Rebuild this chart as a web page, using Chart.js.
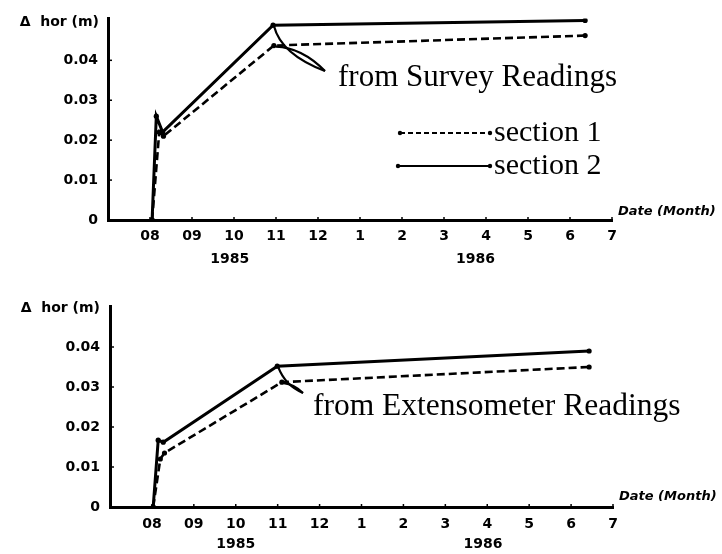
<!DOCTYPE html>
<html>
<head>
<meta charset="utf-8">
<script src="https://cdn.jsdelivr.net/npm/chart.js@4/dist/chart.umd.min.js"></script>
<style>
  html, body { margin: 0; padding: 0; background: #fff; }
  canvas { display: block; }
</style>
</head>
<body>
<canvas id="survey" width="722" height="277"></canvas>
<canvas id="extenso" width="722" height="277"></canvas>
<script>
// Months counted from January 1985 = 1, so 13 = January 1986.
const monthTicks  = [8, 9, 10, 11, 12, 13, 14, 15, 16, 17, 18, 19];
const monthLabels = ['08', '09', '10', '11', '12', '1', '2', '3', '4', '5', '6', '7'];
const dispTicks   = [0, 0.01, 0.02, 0.03, 0.04];
const dispLabels  = ['0', '0.01', '0.02', '0.03', '0.04'];
const yearLabels  = ['1985', '1986'];

// Horizontal displacement from survey readings (m)
const surveyS1Month = [8.05, 8.22, 8.32, 10.95, 18.36];
const surveyS1Disp  = [0, 0.022, 0.021, 0.0437, 0.0462];
const surveyS2Month = [8.05, 8.15, 8.3, 10.93, 18.36];
const surveyS2Disp  = [0, 0.026, 0.022, 0.0488, 0.0500];

// Horizontal displacement from extensometer readings (m)
const extS1Month = [8.03, 8.2, 8.3, 11.1, 18.43];
const extS1Disp  = [0, 0.012, 0.0135, 0.0312, 0.035];
const extS2Month = [8.03, 8.15, 8.27, 10.99, 18.43];
const extS2Disp  = [0, 0.0167, 0.0162, 0.0352, 0.039];

const CANVAS_W = 722, CANVAS_H = 277;

function series(months, disp) {
  return months.map((m, i) => ({ x: m, y: disp[i] }));
}

// Axis decorations, callout and legend
const decor = {
  id: 'decor',
  afterDraw(chart, args, o) {
    const ctx = chart.ctx, xs = chart.scales.x, a = chart.chartArea;
    ctx.save();
    ctx.fillStyle = '#000';
    ctx.strokeStyle = '#000';

    // small inward tick marks
    ctx.lineWidth = 1.5;
    dispTicks.forEach(v => {
      if (v === 0) return;
      const y = chart.scales.y.getPixelForValue(v);
      ctx.beginPath(); ctx.moveTo(a.left, y); ctx.lineTo(a.left + 4, y); ctx.stroke();
    });
    monthTicks.forEach(v => {
      const x = xs.getPixelForValue(v);
      ctx.beginPath(); ctx.moveTo(x, a.bottom); ctx.lineTo(x, a.bottom - 3); ctx.stroke();
    });

    // vertical axis title
    ctx.font = 'bold 14px "DejaVu Sans"';
    ctx.textAlign = 'right';
    ctx.textBaseline = 'middle';
    ctx.fillText('\u0394  hor (m)', o.titleRight, a.top + o.titleDy);

    // horizontal axis title
    ctx.font = 'italic bold 13px "DejaVu Sans"';
    ctx.textAlign = 'left';
    ctx.fillText('Date (Month)', a.right + 6, a.bottom - o.dateDy);

    // years under the month labels
    ctx.font = 'bold 14px "DejaVu Sans"';
    ctx.textAlign = 'center';
    yearLabels.forEach((t, i) => ctx.fillText(t, xs.getPixelForValue(o.yearAt[i]), o.yearY));

    // callout from the November readings to the note
    const p1 = chart.getDatasetMeta(0).data[3];
    const p2 = chart.getDatasetMeta(1).data[3];
    const ex = o.calloutEnd[0], ey = o.calloutEnd[1];
    ctx.lineWidth = 2.2;
    ctx.beginPath();
    ctx.moveTo(p2.x + 1, p2.y + 1);
    ctx.quadraticCurveTo(p2.x + 8, (p2.y + ey) / 2 + 6, ex, ey);
    ctx.stroke();
    ctx.beginPath();
    ctx.moveTo(p1.x + 2, p1.y + 1);
    ctx.quadraticCurveTo(p1.x + (ex - p1.x) * 0.55, p1.y + 2, ex, ey);
    ctx.stroke();

    ctx.font = o.noteSize + 'px "Liberation Serif"';
    ctx.textAlign = 'left';
    ctx.textBaseline = 'alphabetic';
    ctx.fillText(o.note, o.noteX, o.noteY);

    // legend
    if (o.legend) {
      const L = o.legend;
      L.rows.forEach(r => {
        ctx.lineWidth = 2;
        ctx.setLineDash(r.dash);
        ctx.beginPath(); ctx.moveTo(r.x0, r.y); ctx.lineTo(r.x1, r.y); ctx.stroke();
        ctx.setLineDash([]);
        [r.x0, r.x1].forEach(x => { ctx.beginPath(); ctx.arc(x, r.y, 2.2, 0, Math.PI * 2); ctx.fill(); });
        ctx.font = L.size + 'px "Liberation Serif"';
        ctx.fillText(r.text, r.x1 + 4, r.y + L.baseDy);
      });
    }
    ctx.restore();
  }
};

function makeChart(id, c) {
  const lineStyle = {
    borderColor: '#000', pointRadius: 2.6, pointBackgroundColor: '#000',
    pointBorderColor: '#000', pointBorderWidth: 0, tension: 0, fill: false
  };
  return new Chart(document.getElementById(id), {
    type: 'line',
    data: {
      datasets: [
        Object.assign({ label: 'section 1', data: series(c.s1m, c.s1d), borderWidth: 2.6, borderDash: [8, 4] }, lineStyle),
        Object.assign({ label: 'section 2', data: series(c.s2m, c.s2d), borderWidth: 3 }, lineStyle)
      ]
    },
    options: {
      responsive: false,
      animation: false,
      devicePixelRatio: 1,
      layout: { padding: { left: 0, top: c.area.top, right: CANVAS_W - c.area.right, bottom: 0 } },
      plugins: { legend: { display: false }, tooltip: { enabled: false }, decor: c.decor },
      scales: {
        x: {
          type: 'linear', min: 7, max: 19,
          afterBuildTicks: s => { s.ticks = monthTicks.map(v => ({ value: v })); },
          afterFit: s => { s.height = CANVAS_H - c.area.bottom; },
          grid: { display: false, drawTicks: false },
          border: { display: true, width: 3, color: '#000' },
          ticks: {
            autoSkip: false, maxRotation: 0, padding: c.xPad, color: '#000',
            font: { family: 'DejaVu Sans', weight: 'bold', size: 14 },
            callback: (v, i) => monthLabels[i]
          }
        },
        y: {
          type: 'linear', min: 0, max: c.yMax,
          afterBuildTicks: s => { s.ticks = dispTicks.map(v => ({ value: v })); },
          afterFit: s => { s.width = c.area.left; },
          grid: { display: false, drawTicks: false },
          border: { display: true, width: 3, color: '#000' },
          ticks: {
            padding: 10, color: '#000',
            font: { family: 'DejaVu Sans', weight: 'bold', size: 14 },
            callback: (v, i) => dispLabels[i]
          }
        }
      }
    },
    plugins: [decor]
  });
}

makeChart('survey', {
  s1m: surveyS1Month, s1d: surveyS1Disp, s2m: surveyS2Month, s2d: surveyS2Disp,
  area: { left: 108, right: 612, top: 18, bottom: 220 },
  yMax: 0.0505, xPad: 8,
  decor: {
    titleRight: 99, titleDy: 4, dateDy: 8, yearAt: [9.9, 15.75], yearY: 259,
    calloutEnd: [325, 71], note: 'from Survey Readings', noteSize: 31, noteX: 338, noteY: 86,
    legend: {
      size: 30, baseDy: 8,
      rows: [
        { text: 'section 1', x0: 400, x1: 490, y: 133, dash: [5, 3] },
        { text: 'section 2', x0: 398, x1: 490, y: 166, dash: [] }
      ]
    }
  }
});

makeChart('extenso', {
  s1m: extS1Month, s1d: extS1Disp, s2m: extS2Month, s2d: extS2Disp,
  area: { left: 110, right: 613, top: 29, bottom: 230 },
  yMax: 0.05025, xPad: 9,
  decor: {
    titleRight: 100, titleDy: 2, dateDy: 10, yearAt: [10.0, 15.9], yearY: 267,
    calloutEnd: [303, 116], note: 'from Extensometer Readings', noteSize: 31.5, noteX: 313, noteY: 138
  }
});
</script>
</body>
</html>
